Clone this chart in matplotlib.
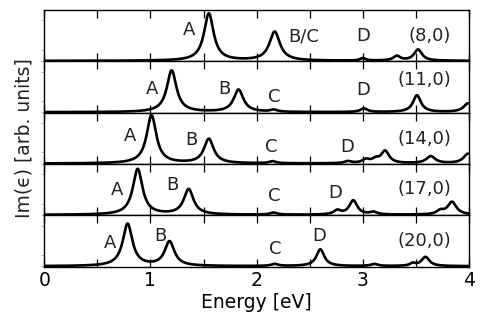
import numpy as np
import matplotlib.pyplot as plt
from matplotlib.ticker import MultipleLocator

# tube labels, top to bottom, and their height in the panel
tubes = ["(8,0)", "(11,0)", "(14,0)", "(17,0)", "(20,0)"]
tube_y = [0.50, 0.63, 0.49, 0.51, 0.50]

# peak centres [eV], heights [fraction of panel], half widths [eV]
centers = [
    [1.55, 2.17, 3.00, 3.32, 3.52],
    [1.20, 1.83, 2.16, 3.01, 3.51, 3.99],
    [1.01, 1.55, 2.15, 2.86, 3.03, 3.12, 3.21, 3.64, 3.99],
    [0.88, 1.36, 2.16, 2.76, 2.91, 3.10, 3.73, 3.84],
    [0.785, 1.18, 2.17, 2.60, 3.11, 3.47, 3.59],
]
heights = [
    [0.93, 0.57, 0.05, 0.09, 0.22],
    [0.82, 0.44, 0.04, 0.07, 0.33, 0.17],
    [0.95, 0.48, 0.04, 0.04, 0.07, 0.07, 0.24, 0.14, 0.19],
    [0.90, 0.50, 0.04, 0.08, 0.28, 0.05, 0.07, 0.25],
    [0.83, 0.48, 0.04, 0.33, 0.04, 0.05, 0.18],
]
widths = [
    [0.055, 0.06, 0.03, 0.04, 0.045],
    [0.055, 0.055, 0.04, 0.04, 0.045, 0.05],
    [0.055, 0.055, 0.04, 0.04, 0.04, 0.04, 0.045, 0.05, 0.05],
    [0.055, 0.055, 0.04, 0.04, 0.045, 0.04, 0.04, 0.05],
    [0.055, 0.055, 0.04, 0.045, 0.04, 0.03, 0.045],
]

# peak letters: (text, x [eV], y [fraction of panel])
letters = [
    [("A", 1.36, 0.62), ("B/C", 2.44, 0.49), ("D", 3.0, 0.49)],
    [("A", 1.02, 0.46), ("B", 1.70, 0.46), ("C", 2.17, 0.31), ("D", 3.0, 0.44)],
    [("A", 0.81, 0.54), ("B", 1.39, 0.47), ("C", 2.14, 0.33), ("D", 2.85, 0.33)],
    [("A", 0.69, 0.49), ("B", 1.21, 0.59), ("C", 2.17, 0.37), ("D", 2.74, 0.43)],
    [("A", 0.62, 0.47), ("B", 1.09, 0.60), ("C", 2.18, 0.35), ("D", 2.59, 0.60)],
]

plt.rcParams['font.family'] = ['DejaVu Sans']

energy = np.linspace(0, 4, 1600)

fig, axes = plt.subplots(5, 1, sharex=True, figsize=(4.86, 3.34), dpi=100)
fig.subplots_adjust(left=0.091, right=0.965, bottom=0.2015, top=0.970, hspace=0)

for i, ax in enumerate(axes):
    spec = np.zeros_like(energy)
    for c, h, g in zip(centers[i], heights[i], widths[i]):
        spec += h * g**2 / ((energy - c)**2 + g**2)
    ax.plot(energy, spec, color='black', lw=1.9, solid_capstyle='butt')
    ax.set_xlim(0, 4)
    ax.set_ylim(-0.01, 1.0)
    for txt, x, y in letters[i]:
        ax.text(x, y, txt, fontsize=13, color='#222222', ha='center', va='center',
                transform=ax.get_xaxis_transform())
    ax.text(3.83, tube_y[i], tubes[i], fontsize=13, color='#222222',
            ha='right', va='center', transform=ax.get_xaxis_transform())
    ax.xaxis.set_major_locator(MultipleLocator(1))
    ax.xaxis.set_minor_locator(MultipleLocator(0.5))
    ax.tick_params(axis='x', which='both', direction='in', top=True, bottom=True,
                   length=6, width=0.9, labelsize=13.5, pad=3)
    ax.set_yticks([0, 0.22, 0.8])
    ax.tick_params(axis='y', direction='out', length=2, width=0.6, color='#aaaaaa',
                   labelleft=False)
    for s in ax.spines.values():
        s.set_linewidth(1.0)

axes[-1].set_xlabel("Energy [eV]", fontsize=13.5, labelpad=2)
fig.text(0.05, 0.5 * (0.2015 + 0.970), "Im(ϵ) [arb. units]", fontsize=13.5,
         rotation=90, ha='center', va='center', color='#222222')

fig.savefig("out.png", dpi=100)
